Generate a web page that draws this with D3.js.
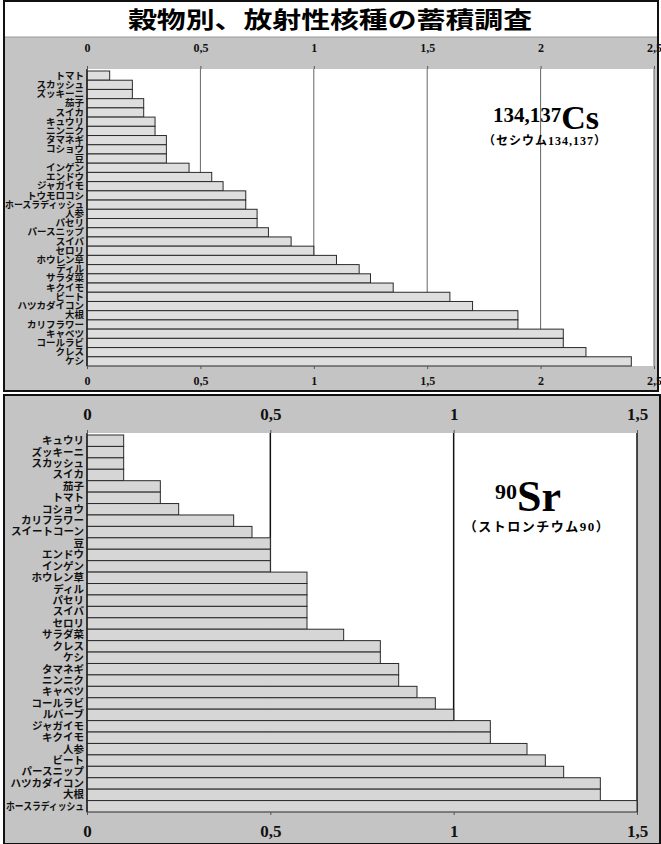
<!DOCTYPE html>
<html>
<head>
<meta charset="utf-8">
<script src="https://cdn.jsdelivr.net/npm/d3@7"></script>
<style>
  body { margin: 0; background: #fff; }
  .cat text { font-family: "Noto Sans CJK JP", sans-serif; font-weight: 700; fill: #111; }
  .num text { font-family: "Liberation Serif", serif; font-weight: 700; fill: #111; }
  .num path.domain { display: none; }
  .num line { stroke: #555; }
</style>
</head>
<body>
<div id="chart"></div>
<script>
// Cs 134,137 - top panel
var csNames = ["トマト","スカッシュ","ズッキーニ","茄子","スイカ","キュウリ","ニンニク","タマネギ","コショウ","豆",
  "インゲン","エンドウ","ジャガイモ","トウモロコシ","ホースラディッシュ","人参","パセリ","パースニップ","スイバ","セロリ",
  "ホウレン草","ディル","サラダ菜","キクイモ","ビート","ハツカダイコン","大根","カリフラワー","キャベツ","コールラビ","クレス","ケシ"];
var csValues = [0.1,0.2,0.2,0.25,0.25,0.3,0.3,0.35,0.35,0.35,
  0.45,0.55,0.6,0.7,0.7,0.75,0.75,0.8,0.9,1.0,
  1.1,1.2,1.25,1.35,1.6,1.7,1.9,1.9,2.1,2.1,2.2,2.4];
var csTicks = [0,0.5,1,1.5,2,2.5];

// Sr 90 - bottom panel
var srNames = ["キュウリ","ズッキーニ","スカッシュ","スイカ","茄子","トマト","コショウ","カリフラワー","スイートコーン","豆",
  "エンドウ","インゲン","ホウレン草","ディル","パセリ","スイバ","セロリ","サラダ菜","クレス","ケシ",
  "タマネギ","ニンニク","キャベツ","コールラビ","ルバーブ","ジャガイモ","キクイモ","人参","ビート","パースニップ",
  "ハツカダイコン","大根","ホースラディッシュ"];
var srValues = [0.1,0.1,0.1,0.1,0.2,0.2,0.25,0.4,0.45,0.5,
  0.5,0.5,0.6,0.6,0.6,0.6,0.6,0.7,0.8,0.8,
  0.85,0.85,0.9,0.95,1.0,1.1,1.1,1.2,1.25,1.3,
  1.4,1.4,1.5];
var srTicks = [0,0.5,1,1.5];

var w = 661, h = 844;
var svg = d3.select("#chart").append("svg")
    .attr("width", w).attr("height", h);

var fmt = function(d){ return String(d).replace(".", ","); };

function panel(o){
    var g = svg.append("g");
    // frame
    g.append("rect")
        .attr("x", o.fx).attr("y", o.fy)
        .attr("width", o.fw).attr("height", o.fh)
        .attr("fill", "#c4c4c4")
        .attr("stroke", "#111").attr("stroke-width", 2);

    var xScale = d3.scaleLinear().domain([0, o.max]).range([o.x0, o.x1]);
    var yScale = d3.scaleBand().domain(o.names).range([o.y0, o.y1]).paddingInner(0);

    // white plot area
    g.append("rect")
        .attr("x", o.x0).attr("y", o.py0)
        .attr("width", o.x1 - o.x0).attr("height", o.y1 - o.py0)
        .attr("fill", "#fff");

    // grid lines
    g.selectAll(".grid")
        .data(o.ticks.slice(1))
        .enter().append("line")
        .attr("x1", function(d){ return xScale(d); })
        .attr("x2", function(d){ return xScale(d); })
        .attr("y1", o.py0).attr("y2", o.y1)
        .attr("stroke", o.gridColor).attr("stroke-width", o.gridWidth);

    // bars
    g.selectAll(".bar")
        .data(o.values)
        .enter().append("rect")
        .attr("x", xScale(0))
        .attr("y", function(d, i){ return yScale(o.names[i]); })
        .attr("width", function(d){ return xScale(d) - xScale(0); })
        .attr("height", yScale.bandwidth())
        .attr("fill", o.barFill)
        .attr("stroke", "#2a2a2a").attr("stroke-width", 1);

    // left axis line
    g.append("line")
        .attr("x1", o.x0).attr("x2", o.x0)
        .attr("y1", o.py0).attr("y2", o.y1)
        .attr("stroke", "#222").attr("stroke-width", 1.5);

    // category labels, squeezed when too wide
    var yAxis = d3.axisLeft(yScale).tickSize(0).tickPadding(3);
    g.append("g")
        .attr("class", "cat")
        .attr("transform", "translate(" + o.x0 + ",0)")
        .call(yAxis)
        .call(function(s){ s.select(".domain").remove(); })
        .selectAll("text")
        .style("font-size", o.catSize + "px")
        .each(function(){
            if (this.getComputedTextLength() > o.catMax) {
                d3.select(this).attr("textLength", o.catMax)
                    .attr("lengthAdjust", "spacingAndGlyphs");
            }
        });

    // number axes top and bottom
    var xTop = d3.axisTop(xScale).tickValues(o.ticks).tickFormat(fmt).tickSize(3).tickPadding(o.padTop);
    var xBot = d3.axisBottom(xScale).tickValues(o.ticks).tickFormat(fmt).tickSize(3).tickPadding(o.padBot);
    g.append("g").attr("class", "num")
        .attr("transform", "translate(0," + o.py0 + ")")
        .call(xTop)
        .selectAll("text").style("font-size", o.numSize + "px");
    g.append("g").attr("class", "num")
        .attr("transform", "translate(0," + o.y1 + ")")
        .call(xBot)
        .selectAll("text").style("font-size", o.numSize + "px");
    return g;
}

// top panel
panel({
    fx: 4, fy: 1, fw: 654, fh: 390,
    x0: 87, x1: 654, max: 2.5,
    py0: 69, y0: 71, y1: 366,
    names: csNames, values: csValues, ticks: csTicks,
    gridColor: "#666", gridWidth: 1, barFill: "#dedede",
    catSize: 9.5, catMax: 79, numSize: 12, padTop: 14, padBot: 7
});
// title band
svg.append("rect")
    .attr("x", 5).attr("y", 2).attr("width", 652).attr("height", 35)
    .attr("fill", "#fff");
svg.append("line")
    .attr("x1", 5).attr("x2", 657).attr("y1", 37).attr("y2", 37)
    .attr("stroke", "#999");
svg.append("text")
    .attr("x", 330).attr("y", 28)
    .attr("text-anchor", "middle")
    .attr("textLength", 404)
    .attr("lengthAdjust", "spacingAndGlyphs")
    .style("font-family", "'Noto Sans CJK JP', sans-serif")
    .style("font-weight", 700)
    .style("font-size", "23px")
    .text("穀物別、放射性核種の蓄積調査");

// bottom panel
panel({
    fx: 4, fy: 395, fw: 656, fh: 449,
    x0: 87, x1: 637, max: 1.5,
    py0: 433, y0: 435, y1: 812,
    names: srNames, values: srValues, ticks: srTicks,
    gridColor: "#111", gridWidth: 1.5, barFill: "#d6d6d6",
    catSize: 10.5, catMax: 78, numSize: 17, padTop: 10, padBot: 10
});

// annotations
var cs = svg.append("text")
    .attr("x", 546).attr("y", 129)
    .attr("text-anchor", "middle")
    .style("font-family", "'Liberation Serif', serif")
    .style("font-weight", 700);
cs.append("tspan").style("font-size", "21px").attr("dy", -7).text("134,137");
cs.append("tspan").style("font-size", "34px").attr("dy", 7).text("Cs");
svg.append("text")
    .attr("x", 545).attr("y", 145)
    .attr("text-anchor", "middle")
    .style("font-family", "'Liberation Serif', 'Noto Sans CJK JP', serif")
    .style("font-weight", 700)
    .style("font-size", "12px")
    .style("letter-spacing", "1px")
    .text("（セシウム134,137）");

var sr = svg.append("text")
    .attr("x", 528).attr("y", 511)
    .attr("text-anchor", "middle")
    .style("font-family", "'Liberation Serif', serif")
    .style("font-weight", 700);
sr.append("tspan").style("font-size", "22px").attr("dy", -12).text("90");
sr.append("tspan").style("font-size", "44px").attr("dy", 12).text("Sr");
svg.append("text")
    .attr("x", 537).attr("y", 531)
    .attr("text-anchor", "middle")
    .style("font-family", "'Liberation Serif', 'Noto Sans CJK JP', serif")
    .style("font-weight", 700)
    .style("font-size", "13px")
    .style("letter-spacing", "1.5px")
    .text("（ストロンチウム90）");
</script>
</body>
</html>
